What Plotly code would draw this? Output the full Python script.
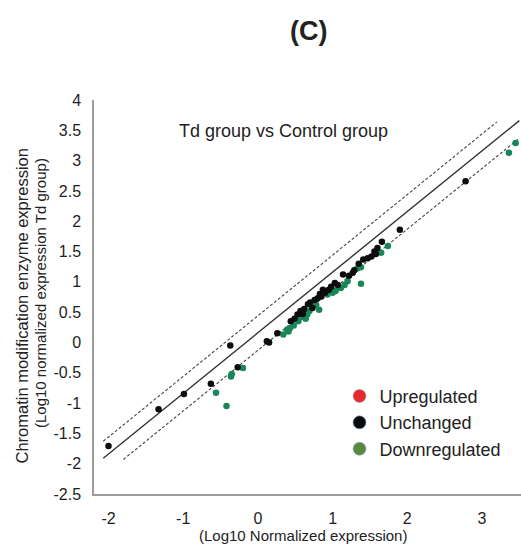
import plotly.graph_objects as go

# ---------------- data ----------------
unchanged_x = [-2.00, -1.33, -0.99, -0.63, -0.37, -0.27, 0.12, 0.15, 0.26, 0.44, 0.49, 0.53,
               0.57, 0.60, 0.62, 0.67, 0.70, 0.73, 0.76, 0.80, 0.83, 0.85, 0.87, 0.90, 0.95,
               0.98, 1.03, 1.07, 1.14, 1.22, 1.27, 1.29, 1.35, 1.41, 1.47, 1.52, 1.56, 1.58,
               1.60, 1.66, 1.90, 2.78]
unchanged_y = [-1.71, -1.10, -0.85, -0.68, -0.05, -0.41, 0.02, 0.00, 0.15, 0.35, 0.39, 0.46,
               0.52, 0.47, 0.55, 0.63, 0.66, 0.57, 0.70, 0.73, 0.80, 0.76, 0.87, 0.82, 0.87,
               0.92, 0.98, 0.95, 1.12, 1.10, 1.15, 1.19, 1.30, 1.37, 1.39, 1.42, 1.50, 1.46,
               1.56, 1.66, 1.86, 2.66]

down_x = [-0.56, -0.42, -0.36, -0.35, -0.20, 0.34, 0.39, 0.41, 0.43, 0.48, 0.54, 0.54, 0.60,
          0.64, 0.66, 0.69, 0.78, 0.82, 0.93, 1.00, 1.04, 1.11, 1.16, 1.20, 1.33, 1.38, 1.38,
          1.65, 1.74, 3.36, 3.45]
down_y = [-0.83, -1.05, -0.56, -0.52, -0.42, 0.13, 0.21, 0.18, 0.24, 0.28, 0.36, 0.35, 0.42,
          0.39, 0.46, 0.52, 0.62, 0.54, 0.79, 0.82, 0.85, 0.90, 0.95, 1.01, 1.22, 1.24, 0.97,
          1.48, 1.59, 3.13, 3.29]

# reference lines: y = x + offset, drawn between the given x extents
line_names = ["centre", "upper", "lower"]
line_offsets = [0.16, 0.44, -0.13]
line_x_start = [-2.07, -2.07, -1.80]
line_x_end = [3.50, 3.20, 3.50]

legend_labels = ["Upregulated", "Unchanged", "Downregulated"]

y_ticks = [4, 3.5, 3, 2.5, 2, 1.5, 1, 0.5, 0, -0.5, -1, -1.5, -2, -2.5]
x_ticks = [-2, -1, 0, 1, 2, 3]

# ---------------- figure ----------------
W, H = 521, 548
ML, MR, MT, MB = 94, 0, 100, 54
fig = go.Figure()

styles = {"centre": dict(color="#333333", width=1.4),
          "upper": dict(color="#444444", width=1.1, dash="3px,2px"),
          "lower": dict(color="#444444", width=1.1, dash="3px,2px")}
for name, off, xs, xe in zip(line_names, line_offsets, line_x_start, line_x_end):
    fig.add_trace(go.Scatter(x=[xs, xe], y=[xs + off, xe + off], mode="lines",
                             line=styles[name], showlegend=False, hoverinfo="skip"))

fig.add_trace(go.Scatter(x=down_x, y=down_y, mode="markers",
                         marker=dict(color="#17875a", size=6.5), showlegend=False))
fig.add_trace(go.Scatter(x=unchanged_x, y=unchanged_y, mode="markers",
                         marker=dict(color="#0d0d0d", size=6.5), showlegend=False))

legend_colors = ["#e8292c", "#0a0a0a", "#588a3e"]
for lab, col in zip(legend_labels, legend_colors):
    fig.add_trace(go.Scatter(x=[None], y=[None], mode="markers", name=lab,
                             marker=dict(color=col, size=13,
                                         line=dict(color="#8aa0c0", width=0.6))))

font = "Liberation Sans, Arial, sans-serif"
fig.update_layout(
    width=W, height=H, margin=dict(l=ML, r=MR, t=MT, b=MB),
    paper_bgcolor="white", plot_bgcolor="white",
    font=dict(family=font, color="#222222"),
    xaxis=dict(range=[-2.194, 3.522], tickvals=x_ticks, ticktext=[str(v) for v in x_ticks],
               showgrid=False, zeroline=False, showline=True, linecolor="#9c9c9c", linewidth=1.5,
               ticks="", ticklabelstandoff=9, tickfont=dict(size=16, color="#1e1e1e")),
    yaxis=dict(range=[-2.5, 4.0], tickvals=y_ticks,
               ticktext=[("%g" % v) for v in y_ticks],
               showgrid=False, zeroline=False, showline=True, linecolor="#9c9c9c", linewidth=1.5,
               ticks="", ticklabelstandoff=8, tickfont=dict(size=16, color="#1e1e1e")),
    legend=dict(x=0.575, y=0.295, xanchor="left", yanchor="top", bgcolor="rgba(0,0,0,0)",
                font=dict(size=18, color="#222222"), itemsizing="trace", tracegroupgap=0),
    showlegend=True,
)

PW = W - ML - MR
PH = H - MT - MB

def px_x(p):
    return (p - ML) / PW

def px_y(p):
    return (H - MB - p) / PH

annos = [
    dict(text="<b>(C)</b>", x=px_x(308), y=px_y(31), font=dict(size=27, color="#222222")),
    dict(text="Td group vs Control group", x=px_x(283), y=px_y(131), font=dict(size=18, color="#222222")),
    dict(text="(Log10 Normalized expression)", x=px_x(303), y=px_y(535), font=dict(size=15, color="#222222")),
    dict(text="Chromatin modification enzyme expression", x=px_x(21.5), y=px_y(306),
         textangle=-90, font=dict(size=16.5, color="#222222")),
    dict(text="(Log10 normalized expression Td group)", x=px_x(40), y=px_y(293),
         textangle=-90, font=dict(size=15, color="#222222")),
]
for a in annos:
    fig.add_annotation(xref="paper", yref="paper", xanchor="center", yanchor="middle",
                       showarrow=False, **a)

fig.write_html("out.html")
